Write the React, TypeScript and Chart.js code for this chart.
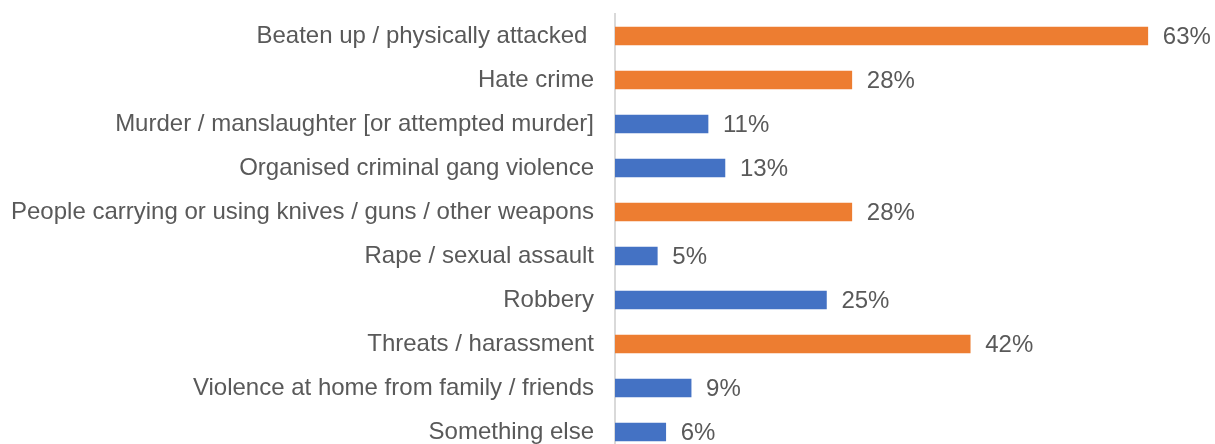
import React, { useEffect, useRef } from "react";
import { Chart, registerables } from "chart.js";

Chart.register(...registerables);

const categories = [
  "Beaten up / physically attacked ",
  "Hate crime",
  "Murder / manslaughter [or attempted murder]",
  "Organised criminal gang violence",
  "People carrying or using knives / guns / other weapons",
  "Rape / sexual assault",
  "Robbery",
  "Threats / harassment",
  "Violence at home from family / friends",
  "Something else",
];
const values = [63, 28, 11, 13, 28, 5, 25, 42, 9, 6];
const ORANGE = "#ED7D31";
const BLUE = "#4472C4";
const barColors = [ORANGE, ORANGE, BLUE, BLUE, ORANGE, BLUE, BLUE, ORANGE, BLUE, BLUE];

const FONT = "'Liberation Sans', Arial, sans-serif";
const TEXT = "#595959";

const labelPlugin = {
  id: "barValueLabels",
  afterDatasetsDraw(chart: any) {
    const ctx = chart.ctx;
    const meta = chart.getDatasetMeta(0);
    ctx.save();
    ctx.font = `24px ${FONT}`;
    ctx.fillStyle = TEXT;
    ctx.textAlign = "left";
    ctx.textBaseline = "middle";
    meta.data.forEach((bar: any, i: number) => {
      ctx.fillText(`${values[i]}%`, bar.x + 15, bar.y + 1);
    });
    ctx.restore();
  },
};

export default function App() {
  const ref = useRef<HTMLCanvasElement>(null);
  useEffect(() => {
    document.body.style.margin = "0";
    document.body.style.overflow = "hidden";
    const chart = new Chart(ref.current!, {
      type: "bar",
      data: {
        labels: categories,
        datasets: [
          {
            data: values,
            backgroundColor: barColors,
            barThickness: 18,
            borderWidth: 0,
          },
        ],
      },
      options: {
        indexAxis: "y",
        animation: false,
        responsive: false,
        maintainAspectRatio: false,
        layout: { padding: { top: 14, right: 8, bottom: 0, left: 0 } },
        plugins: { legend: { display: false }, tooltip: { enabled: false } },
        scales: {
          x: { display: false, min: 0, max: 70 },
          y: {
            afterFit: (s: any) => {
              s.width = 615;
              s.paddingTop = 0;
              s.paddingBottom = 0;
            },
            grid: { display: false, drawTicks: false },
            border: { display: true, color: "#D9D9D9", width: 2 },
            ticks: {
              padding: 21,
              color: TEXT,
              font: { family: FONT, size: 24 },
              autoSkip: false,
            },
          },
        },
      },
      plugins: [labelPlugin],
    });
    return () => chart.destroy();
  }, []);
  return (
    <div style={{ position: "fixed", top: 0, left: 0, width: 1215, height: 454 }}>
      <canvas ref={ref} width={1215} height={454} style={{ display: "block" }} />
    </div>
  );
}
